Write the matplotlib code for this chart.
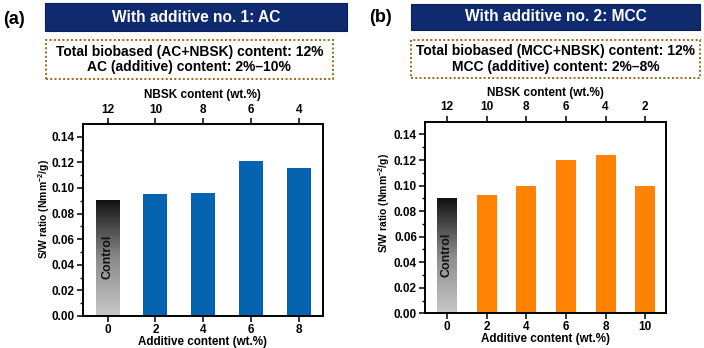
import numpy as np
import matplotlib
matplotlib.use("Agg")
import matplotlib.pyplot as plt
from matplotlib.patches import Rectangle
from matplotlib.colors import LinearSegmentedColormap

plt.rcParams['font.family'] = ['Liberation Sans', 'DejaVu Sans']
plt.rcParams['font.weight'] = 'bold'
plt.rcParams['mathtext.fontset'] = 'custom'
plt.rcParams['mathtext.rm'] = 'Liberation Sans:bold'
plt.rcParams['mathtext.bf'] = 'Liberation Sans:bold'
plt.rcParams['mathtext.default'] = 'bf'

# ---- data ----
a_additive = [0, 2, 4, 6, 8]
a_nbsk = [12, 10, 8, 6, 4]
a_sw = [0.090, 0.095, 0.096, 0.121, 0.116]

b_additive = [0, 2, 4, 6, 8, 10]
b_nbsk = [12, 10, 8, 6, 4, 2]
b_sw = [0.090, 0.093, 0.100, 0.120, 0.124, 0.100]

yticks = [0.00, 0.02, 0.04, 0.06, 0.08, 0.10, 0.12, 0.14]

W, H = 704, 348
fig = plt.figure(figsize=(W / 100, H / 100), dpi=100)

def fx(px):
    return px / W

def fy(py):
    return 1 - py / H

cmap_ctrl = LinearSegmentedColormap.from_list('ctrl', ['#c8c8c8', '#8a8a8a', '#111111'])

def panel(rect, xs, nbsk, vals, color, xlim, ylab_x, ylab_y):
    ax = fig.add_axes(rect)
    x0 = xs[0]
    grad = np.linspace(0, 1, 256).reshape(-1, 1)
    ax.imshow(grad, extent=[x0 - 0.5, x0 + 0.5, 0, vals[0]], origin='lower',
              aspect='auto', cmap=cmap_ctrl, zorder=2)
    ax.bar(xs[1:], vals[1:], width=1.0, color=color, zorder=2)
    ax.text(x0, 0.046, 'Control', rotation=90, ha='center', va='center',
            fontsize=9, fontweight='bold', color='#111111', zorder=3)
    ax.set_xlim(*xlim)
    ax.set_ylim(0, 0.15)
    ax.set_yticks(yticks)
    ax.set_yticklabels([f'{v:.2f}' for v in yticks])
    ax.set_yticks(np.arange(0.01, 0.15, 0.02), minor=True)
    ax.set_xticks(xs)
    ax.set_xticklabels([str(v) for v in xs])
    ax.tick_params(axis='both', which='major', direction='out', length=4, width=1.1,
                   labelsize=8.5, pad=2)
    ax.tick_params(axis='x', which='major', pad=1.5)
    ax.tick_params(axis='y', which='minor', direction='out', length=2.5, width=1.0)
    for s in ax.spines.values():
        s.set_linewidth(1.2)
    ax.set_xlabel('Additive content (wt.%)', fontsize=8.4, fontweight='bold', labelpad=0)
    ax.set_ylabel('S/W ratio (Nmm$^{-2}$/g)', fontsize=7.5, fontweight='bold')
    ax.yaxis.set_label_coords((ylab_x - rect[0] * W) / (rect[2] * W),
                              ((1 - ylab_y / H) - rect[1]) / rect[3])
    top = ax.twiny()
    top.set_xlim(*xlim)
    top.set_xticks(xs)
    top.set_xticklabels([str(v) for v in nbsk])
    top.tick_params(axis='x', direction='out', length=4, width=1.1, labelsize=8.5, pad=2)
    top.set_xlabel('NBSK content (wt.%)', fontsize=8.5, fontweight='bold', labelpad=4)
    for s in top.spines.values():
        s.set_linewidth(1.2)
    for lbl in ax.get_xticklabels() + ax.get_yticklabels() + top.get_xticklabels():
        lbl.set_fontweight('bold')
    return ax

panel([fx(82.7), fy(316), fx(323 - 82.7), (316 - 124) / H], a_additive, a_nbsk, a_sw,
      '#0563b0', (-1.04, 9.0), 51.7, 209)
panel([fx(425.3), fy(313.3), fx(666.3 - 425.3), (313.3 - 121.7) / H], b_additive, b_nbsk, b_sw,
      '#ff8405', (-1.09, 11.06), 391.5, 203)

def header(x0, x1, y0, y1, text):
    fig.patches.append(Rectangle((fx(x0), fy(y1)), fx(x1 - x0), (y1 - y0) / H,
                                 transform=fig.transFigure, facecolor='#0f2a6e',
                                 edgecolor='#0a1f55', linewidth=0.8))
    fig.text(fx((x0 + x1) / 2), fy((y0 + y1) / 2), text, ha='center', va='center',
             color='white', fontsize=11.2, fontweight='bold')

def dotted(x0, x1, y0, y1, lines):
    fig.patches.append(Rectangle((fx(x0), fy(y1)), fx(x1 - x0), (y1 - y0) / H,
                                 transform=fig.transFigure, facecolor='none',
                                 edgecolor='#9b6a1c', linewidth=1.4, linestyle=(0, (1, 1.2))))
    fig.text(fx((x0 + x1) / 2), fy((y0 + y1) / 2), '\n'.join(lines), ha='center', va='center',
             color='black', fontsize=10, fontweight='bold', linespacing=1.1)

header(45, 347, 3, 31, 'With additive no. 1: AC')
header(411, 700, 4, 29.5, 'With additive no. 2: MCC')
dotted(45.7, 333, 40, 79, ['Total biobased (AC+NBSK) content: 12%', 'AC (additive) content: 2%\u201310%'])
dotted(411, 700, 40, 78, ['Total biobased (MCC+NBSK) content: 12%', 'MCC (additive) content: 2%\u20138%'])

fig.text(fx(14), fy(19), '(a)', ha='center', va='center', fontsize=13, fontweight='bold')
fig.text(fx(380), fy(17), '(b)', ha='center', va='center', fontsize=13, fontweight='bold')

fig.savefig('out.png', dpi=100)
